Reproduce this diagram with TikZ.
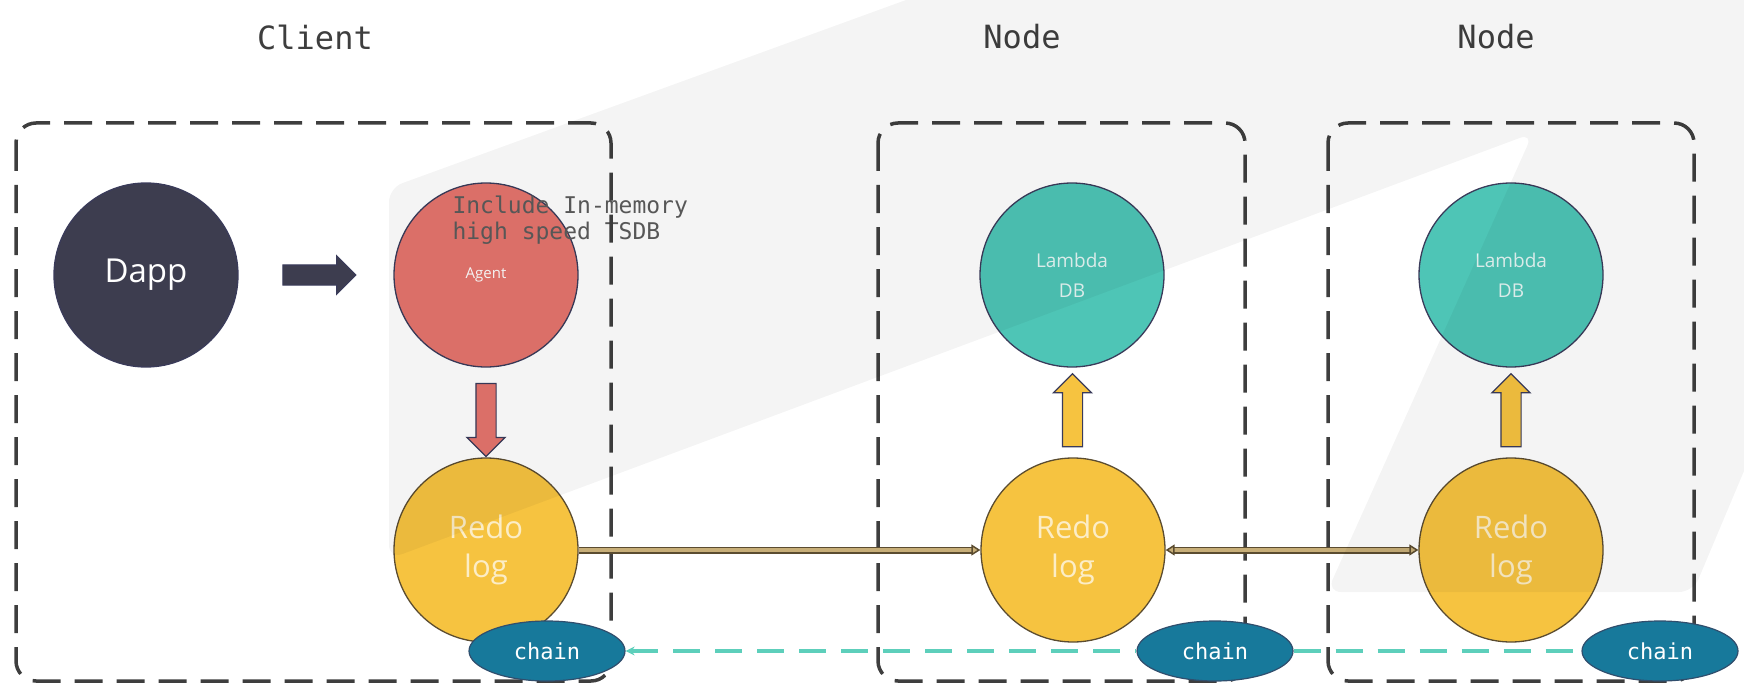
\documentclass[tikz,border=0pt]{standalone}
\usepackage{fontspec}
\setmainfont{Open Sans}
\newfontfamily\monofont{DejaVu Sans Mono}
\usetikzlibrary{arrows.meta,shapes.arrows,shapes.geometric,calc}
\definecolor{ink}{HTML}{3E3E3E}
\definecolor{dappc}{HTML}{3D3D4F}
\definecolor{agentc}{HTML}{E5756D}
\definecolor{lambdac}{HTML}{4EC5B6}
\definecolor{redoc}{HTML}{F6C340}
\definecolor{chainc}{HTML}{17799B}
\definecolor{rim}{HTML}{3A3B5A}
\definecolor{pipe}{HTML}{C7AE78}
\definecolor{pipeedge}{HTML}{5B4C30}
\definecolor{link}{HTML}{5DCFBB}

\begin{document}
\begin{tikzpicture}
  [x=1pt, y=-1pt,
   ball/.style={circle, draw=rim, line width=1.3pt, minimum size=184pt,
     inner sep=0pt, align=center},
   chainnode/.style={ellipse, fill=chainc, draw=rim!70!chainc, line width=1.2pt,
     minimum width=156pt, minimum height=60pt, inner sep=0pt, text=white,
     font=\monofont\fontsize{22}{22}\selectfont},
   group/.style={draw=ink, line width=3.5pt, dash pattern=on 28pt off 14pt,
     rounded corners=20pt},
   title/.style={text=ink, font=\monofont\fontsize{32}{32}\selectfont},
   blockarr/.style={single arrow, draw=rim, line width=1.2pt, minimum height=73pt,
     single arrow head extend=9pt, inner xsep=0pt, inner ysep=9.5pt},
   pipeline/.style={draw=pipeedge, double=pipe, double distance=4pt, line width=1.5pt},
   chainlink/.style={draw=link, line width=3.2pt, dash pattern=on 27pt off 15pt}]
  \useasboundingbox (0,0) rectangle (1744,687);

  % titles
  \node[title] (cl) at (315,37) {Client};
  \node[title] (n1) at (1022,37) {Node};
  \node[title] (n2) at (1496,37) {Node};

  % circles
  \node[ball, fill=dappc, text=white, font=\fontsize{33}{33}\selectfont]
    (dapp) at (146,275) {Dapp};
  \node[ball, fill=agentc, text=white, font=\fontsize{15}{15}\selectfont]
    (agent) at (486,275) {Agent};
  \foreach \i/\x in {1/1072,2/1511}{
    \node[ball, fill=lambdac, text=white!85!lambdac, font=\fontsize{19}{30}\selectfont]
    (lam\i) at (\x,275) {Lambda\\DB};}
  \foreach \i/\x in {1/486,2/1073,3/1511}{
    \node[ball, draw=pipeedge, fill=redoc, text=white!70!redoc, font=\fontsize{31}{39}\selectfont]
    (redo\i) at (\x,550) {Redo\\log};}

  \node[anchor=west, align=left, text=ink!85, font=\monofont\fontsize{23}{26}\selectfont]
    (tsdb) at (449,220) {Include In-memory\\high speed TSDB};

  % groups
  \draw[group] (16,123) rectangle (611,681);
  \draw[group] (878,123) rectangle (1245,681);
  \draw[group] (1328,123) rectangle (1694,681);

  % arrows
  \node[blockarr, fill=dappc] (a1) at ($(dapp)!.495!(agent)$) {};
  \node[blockarr, fill=agentc, rotate=-90] (a2) at ($(agent)!.509!(redo1)$) {};
  \node[blockarr, fill=redoc, rotate=90] (a3) at ($(redo2)!.49!(lam1)$) {};
  \node[blockarr, fill=redoc, rotate=90] (a4) at ($(redo3)!.49!(lam2)$) {};

  \draw[pipeline, -{Triangle[length=9pt,width=11pt,fill=pipe]}] (redo1) -- (redo2);
  \draw[pipeline, {Triangle[length=9pt,width=11pt,fill=pipe]}-{Triangle[length=9pt,width=11pt,fill=pipe]}]
    (redo2) -- (redo3);

  % chain
  \node[chainnode] (ch1) at (547,651) {chain};
  \node[chainnode] (ch2) at (1215,651) {chain};
  \node[chainnode] (ch3) at (1660,651) {chain};
  \draw[chainlink, {Stealth[length=9pt,width=9pt]}-] (ch1) -- (ch2);
  \draw[chainlink] (ch2) -- (ch3);

  % watermark
  \fill[black, fill opacity=.045, rounded corners=14pt] (389,400) -- (389,188)
    -- (1016,-40) -- (1800,-40) -- (1800,338) -- (1693,592) -- (1327,592)
    -- (1533,133) -- (389,559) -- cycle;
\end{tikzpicture}
\end{document}
